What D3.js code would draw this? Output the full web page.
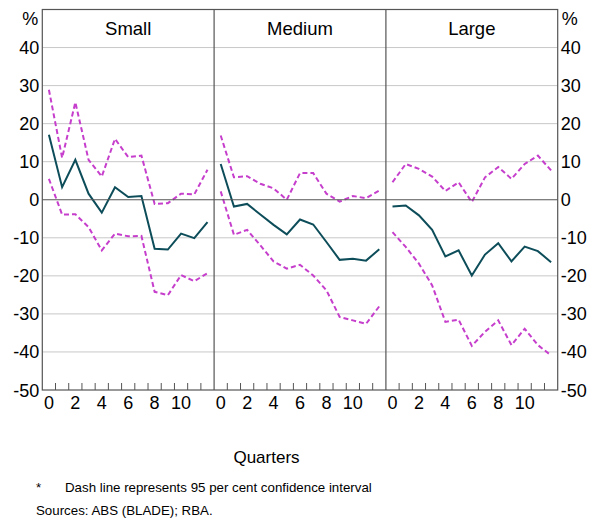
<!DOCTYPE html>
<html><head><meta charset="utf-8">
<script src="https://cdn.jsdelivr.net/npm/d3@7"></script>
<style>body{margin:0;background:#fff;}svg{display:block;font-family:"Liberation Sans",Arial,sans-serif;}</style>
</head><body><svg id="c" width="592" height="521"></svg>
<script>
const panels = ["Small", "Medium", "Large"];
const quarters = [0,1,2,3,4,5,6,7,8,9,10,11,12];
const xTickLabels = [0,2,4,6,8,10];
const yTicks = [-50,-40,-30,-20,-10,0,10,20,30,40];
const estimateSmall  = [17.1, 3.3, 10.5, 1.6, -3.4, 3.3, 0.7, 1.0, -12.9, -13.1, -8.9, -10.1, -5.9];
const upperSmall     = [28.9, 11.0, 25.6, 10.5, 6.1, 16.0, 11.2, 11.6, -1.1, -0.9, 1.6, 1.4, 7.9];
const lowerSmall     = [5.5, -3.9, -3.8, -7.2, -13.3, -8.9, -9.6, -9.5, -24.2, -25.1, -19.8, -21.4, -19.3];
const estimateMedium = [9.4, -1.8, -1.1, -3.9, -6.6, -9.1, -5.2, -6.5, -11.1, -15.8, -15.5, -16.0, -13.0];
const upperMedium    = [16.9, 5.9, 6.2, 4.2, 3.0, 0.0, 7.0, 7.0, 1.6, -0.5, 1.0, 0.4, 2.4];
const lowerMedium    = [2.2, -9.2, -7.9, -12.0, -16.2, -18.1, -17.1, -19.9, -23.8, -30.8, -31.7, -32.6, -28.0];
const estimateLarge  = [-1.8, -1.5, -4.1, -7.9, -14.9, -13.3, -19.9, -14.4, -11.4, -16.2, -12.3, -13.5, -16.4];
const upperLarge     = [4.6, 9.4, 8.1, 6.1, 2.3, 4.6, -0.6, 5.9, 8.6, 5.5, 9.4, 11.6, 7.7];
const lowerLarge     = [-8.5, -12.4, -16.8, -22.5, -32.1, -31.5, -38.4, -34.7, -31.7, -38.2, -33.9, -38.2, -40.9];

const series = [
  {est: estimateSmall, up: upperSmall, lo: lowerSmall},
  {est: estimateMedium, up: upperMedium, lo: lowerMedium},
  {est: estimateLarge, up: upperLarge, lo: lowerLarge}
];

(function(){
const svg = d3.select("#c");
const pLeft = 42.3, pRight = 557.7, pTop = 9.5, pBottom = 390;
const pw = (pRight - pLeft) / 3;
const y = d3.scaleLinear().domain([-50, 50]).range([pBottom, pTop]);
const frameCol = "#555", gridCol = "#c8c8c8";
const teal = "#0d4d5a", magenta = "#c63fcc";
const axFont = 18;

svg.append("g").selectAll("line").data(yTicks.filter(d => d !== 0 && d !== -50)).join("line")
  .attr("x1", pLeft).attr("x2", pRight).attr("y1", d => y(d)).attr("y2", d => y(d))
  .attr("stroke", gridCol).attr("stroke-width", 1);

panels.forEach((name, i) => {
  const x0 = pLeft + i * pw;
  const x = d3.scaleBand().domain(quarters).range([x0, x0 + pw]).padding(0);
  const g = svg.append("g");
  const bounds = quarters.slice(1).map(q => x(q));
  g.selectAll("line.tk").data(bounds).join("line")
    .attr("x1", d => d).attr("x2", d => d).attr("y1", pBottom).attr("y2", pBottom - 7)
    .attr("stroke", frameCol).attr("stroke-width", 1);
  g.selectAll("text.xl").data(xTickLabels).join("text")
    .attr("x", d => x(d) + x.bandwidth() / 2).attr("y", pBottom + 19)
    .attr("text-anchor", "middle").attr("font-size", axFont).attr("fill", "#000").text(d => d);
  g.append("text").attr("x", x0 + pw / 2).attr("y", 35).attr("text-anchor", "middle")
    .attr("font-size", 18.5).attr("fill", "#000").text(name);
  const line = d3.line().x((d, j) => x(quarters[j]) + x.bandwidth() / 2).y(d => y(d));
  const s = series[i];
  g.append("path").attr("d", line(s.up)).attr("fill", "none").attr("stroke", magenta)
    .attr("stroke-width", 2).attr("stroke-dasharray", "5,3");
  g.append("path").attr("d", line(s.lo)).attr("fill", "none").attr("stroke", magenta)
    .attr("stroke-width", 2).attr("stroke-dasharray", "5,3");
  g.append("path").attr("d", line(s.est)).attr("fill", "none").attr("stroke", teal)
    .attr("stroke-width", 2);
});

svg.append("line").attr("x1", pLeft).attr("x2", pRight).attr("y1", y(0)).attr("y2", y(0))
  .attr("stroke", frameCol).attr("stroke-width", 1.2);

svg.append("rect").attr("x", pLeft).attr("y", pTop).attr("width", pRight - pLeft).attr("height", pBottom - pTop)
  .attr("fill", "none").attr("stroke", frameCol).attr("stroke-width", 1.2);
[1, 2].forEach(i => svg.append("line").attr("x1", pLeft + i * pw).attr("x2", pLeft + i * pw)
  .attr("y1", pTop).attr("y2", pBottom).attr("stroke", frameCol).attr("stroke-width", 1.2));

const yl = svg.append("g").attr("font-size", axFont).attr("fill", "#000");
yl.selectAll("text.l").data(yTicks).join("text").attr("x", pLeft - 3).attr("y", d => y(d) + 6.5)
  .attr("text-anchor", "end").text(d => d);
yl.append("text").attr("x", pLeft - 4).attr("y", 25).attr("text-anchor", "end").text("%");
const yr = svg.append("g").attr("font-size", axFont).attr("fill", "#000");
yr.selectAll("text.r").data(yTicks).join("text").attr("x", pRight + 3).attr("y", d => y(d) + 6.5)
  .attr("text-anchor", "start").text(d => d);
yr.append("text").attr("x", pRight + 4).attr("y", 25).attr("text-anchor", "start").text("%");

svg.append("text").attr("x", 266.5).attr("y", 463).attr("text-anchor", "middle")
  .attr("font-size", 17).text("Quarters");
svg.append("text").attr("x", 36).attr("y", 492).attr("font-size", 13.3).text("*");
svg.append("text").attr("x", 65).attr("y", 492).attr("font-size", 13.3).text("Dash line represents 95 per cent confidence interval");
svg.append("text").attr("x", 36).attr("y", 515).attr("font-size", 13.3).text("Sources: ABS (BLADE); RBA.");
})();
</script></body></html>
